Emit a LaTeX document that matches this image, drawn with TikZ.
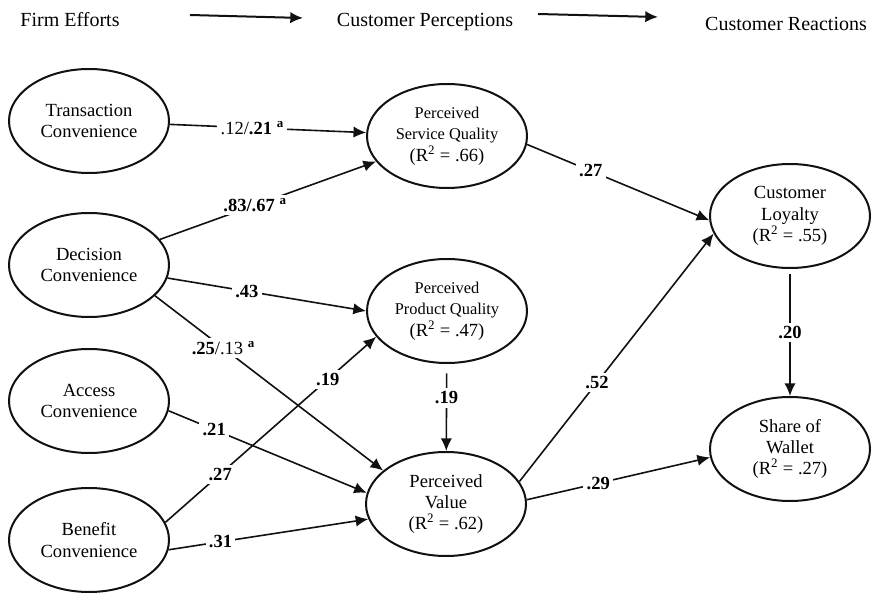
\documentclass[tikz,border=0pt]{standalone}
\usepackage{fontspec}
\setmainfont{Liberation Serif}
\definecolor{ModelInk}{HTML}{111111}
\usepackage{tikz}
\usetikzlibrary{arrows.meta,shapes.geometric}
\newcommand{\lblsz}{\fontsize{13.9}{16}\selectfont}
\newcommand{\smsz}{\fontsize{12.3}{15}\selectfont}
\newcommand{\sig}{\textsuperscript{\textbf{a}}}

\begin{document}
\begin{tikzpicture}[x=0.75pt,y=-0.75pt,>={Latex[length=9.5pt,width=8.5pt]},
    construct/.style={ellipse,draw=ModelInk,line width=1.5pt,minimum width=120pt,
      minimum height=78pt,inner sep=0pt,align=center,font=\lblsz},
    link/.style={->,line width=1.2pt,draw=ModelInk},
    coef/.style={fill=white,inner sep=2.5pt,font=\lblsz\bfseries},
    stage/.style={anchor=base,font=\fontsize{15}{18}\selectfont}]
    \useasboundingbox (0,0) rectangle (872,595);

    \node[stage] (fe) at (70,27) {Firm Efforts};
    \node[stage] (cp) at (425,27) {Customer Perceptions};
    \node[stage] (cr) at (786,31) {Customer Reactions};
    \coordinate (fe-to) at (190,15);
    \coordinate (cp-from) at (303,18);
    \coordinate (cp-to) at (538,14);
    \coordinate (cr-from) at (658,17);
    \draw[link,line width=1.5pt] (fe-to) -- (cp-from);
    \draw[link,line width=1.5pt] (cp-to) -- (cr-from);

    \node[construct] (tc) at (89,121) {Transaction\\Convenience};
    \node[construct] (dc) at (89,265) {Decision\\Convenience};
    \node[construct] (ac) at (89,401) {Access\\Convenience};
    \node[construct] (bc) at (89,540) {Benefit\\Convenience};

    \node[construct] (sq) at (447,136)
      {\smsz Perceived\\\smsz Service Quality\\\lblsz (R\textsuperscript{2} = .66)};
    \node[construct] (pq) at (447,311)
      {\smsz Perceived\\\smsz Product Quality\\\lblsz (R\textsuperscript{2} = .47)};
    \node[construct] (val) at (446,504) {Perceived\\Value\\(R\textsuperscript{2} = .62)};

    \node[construct] (loy) at (790,216) {Customer\\Loyalty\\(R\textsuperscript{2} = .55)};
    \node[construct] (sow) at (790,449) {Share of\\Wallet\\(R\textsuperscript{2} = .27)};

    \draw[link] (tc) -- node[coef,pos=.42] {{\mdseries .12/}.21 \sig} (sq);
    \draw[link] (dc) -- node[coef,pos=.44] {.83/.67 \sig} (sq);
    \draw[link] (dc) -- node[coef,pos=.40] {.43} (pq.west);
    \draw[link] (dc.-25) -- node[coef,pos=.30] {.25{\mdseries /.13} \sig} (val.152);
    \draw[link] (ac.-7) -- node[coef,pos=.23] {.21} (val.172);
    \draw[link] (bc.13) -- node[coef,pos=.26] {.27} node[coef,pos=.77] {.19} (pq.200);
    \draw[link] (bc.-7) -- node[coef,pos=.26] {.31} (val.191);
    \draw[link,shorten <=7pt] (pq) -- node[coef,pos=.39] {.19} (val);
    \draw[link] (sq.-6) -- node[coef,pos=.35] {.27} (loy.183);
    \draw[link] (val.17) -- node[coef,pos=.40] {.52} (loy.193);
    \draw[link] (val.3) -- node[coef,pos=.39] {.29} (sow.186);
    \draw[link,shorten <=4pt] (loy) -- node[coef,pos=.50] {.20} (sow);
  \end{tikzpicture}
\end{document}
